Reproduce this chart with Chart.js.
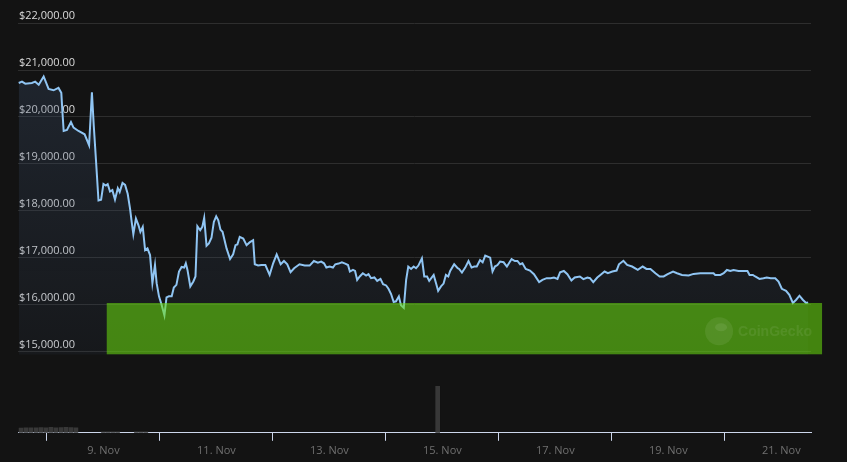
<!DOCTYPE html>
<html>
<head>
<meta charset="utf-8">
<title>BTC price</title>
<script src="https://cdn.jsdelivr.net/npm/chart.js@4.4.1/dist/chart.umd.min.js"></script>
<style>
  html, body { margin: 0; padding: 0; background: #131313; }
  canvas { display: block; }
</style>
</head>
<body>
<canvas id="priceChart" width="847" height="462"></canvas>
<script>
// hours counted from 7 Nov 00:00
const hours = [12.0,13.4,14.8,17.6,19.0,20.5,22.6,24.7,26.8,28.9,30.1,30.6,31.1,32.5,34.2,35.3,37.4,40.0,41.9,43.1,43.9,44.8,45.9,47.0,48.0,49.0,49.8,50.8,51.8,52.9,54.1,54.9,56.1,57.2,58.3,59.3,60.0,60.7,61.8,62.9,63.7,64.7,65.7,66.7,67.8,68.8,69.9,70.6,71.6,72.7,73.9,74.8,75.8,77.0,77.9,79.0,80.1,81.2,82.3,83.0,83.7,84.9,86.2,87.1,87.9,89.1,90.0,90.8,91.8,92.8,93.9,94.9,95.9,96.8,97.7,98.6,100.3,101.8,103.1,104.1,104.9,105.9,107.4,108.8,110.1,111.6,112.3,113.7,115.1,116.8,118.6,120.1,121.6,123.3,124.7,126.1,127.5,129.0,131.3,133.5,135.6,137.4,139.1,140.5,141.7,142.7,144.1,145.5,146.5,147.9,149.3,150.7,151.9,152.7,154.0,154.9,155.8,156.9,158.2,159.6,160.6,161.7,163.1,164.3,165.7,166.8,168.1,169.1,170.2,171.3,172.3,173.5,174.4,175.6,176.6,177.5,178.7,179.8,180.8,181.8,182.6,183.3,184.3,185.5,186.4,188.3,189.3,190.2,191.4,192.5,193.5,194.5,195.3,197.0,198.5,199.1,200.3,201.7,203.1,204.4,205.5,206.6,208.0,209.1,210.2,212.3,213.3,214.3,215.4,216.5,218.0,219.4,221.4,222.8,223.9,225.0,226.0,227.4,229.2,230.9,233.1,234.5,236.3,238.0,239.4,240.9,242.0,243.6,245.1,246.8,248.2,250.4,251.9,253.6,254.7,256.1,257.8,259.5,260.9,262.3,264.2,266.0,267.0,268.9,270.5,272.6,275.0,277.1,278.7,280.4,282.5,284.3,286.0,287.7,290.0,291.7,293.8,296.6,298.7,301.6,304.4,307.2,307.9,310.1,311.5,312.9,314.3,315.7,317.8,319.9,321.6,322.5,323.9,324.9,326.7,328.4,329.8,331.5,333.4,334.8,336.2,338.0,339.4,340.9,342.3,343.7,345.1,346.5,347.4];

const prices = [20725,20753,20711,20725,20753,20689,20865,20598,20569,20620,20514,20091,19702,19723,19892,19774,19702,19632,19399,20526,19807,19103,18221,18236,18574,18538,18568,18411,18441,18242,18483,18399,18596,18553,18363,18046,17764,17502,17834,17692,17553,17659,17164,17200,17058,16459,16846,16459,16178,16000,15772,16157,16178,16178,16368,16423,16707,16804,16791,16882,16741,16390,16495,16601,17671,17587,17659,17849,17257,17305,17426,17764,17883,17798,17601,17553,17200,16973,17073,17269,17284,17447,17411,17269,17327,17375,16861,16834,16846,16846,16635,16882,17073,16861,16931,16861,16692,16777,16861,16834,16834,16931,16897,16918,16882,16791,16813,16791,16861,16876,16904,16876,16846,16707,16741,16719,16529,16601,16671,16622,16650,16565,16580,16508,16550,16438,16410,16339,16227,16058,16072,16178,15988,15931,16529,16813,16762,16813,16777,16834,16918,16988,16601,16601,16508,16635,16459,16296,16390,16449,16635,16601,16719,16861,16777,16762,16686,16791,16931,16791,16813,16813,16952,16904,17045,17003,16707,16813,16846,16918,16904,16813,16973,16931,16931,16861,16882,16762,16728,16650,16481,16529,16565,16565,16580,16550,16692,16719,16650,16516,16580,16601,16544,16580,16565,16481,16580,16650,16707,16671,16707,16728,16861,16935,16846,16813,16741,16813,16762,16762,16671,16601,16601,16650,16707,16671,16635,16622,16656,16671,16671,16671,16635,16635,16671,16741,16719,16741,16719,16719,16719,16635,16635,16601,16550,16565,16580,16565,16565,16495,16339,16296,16212,16036,16106,16191,16106,16036,16047];

// volume (relative units)
const volHours  = [13.0,15.1,17.2,19.4,21.5,23.6,25.7,27.8,30.0,32.1,34.2,36.3,48,50,52,54,62,64,66,190];
const volValues = [1.1,1.15,1.2,1.15,1.25,1.2,1.3,1.2,1.25,1.3,1.25,1.2,0.25,0.25,0.25,0.2,0.25,0.25,0.2,11.0];

const xTickHours  = [48, 96, 144, 192, 240, 288, 336];
const xTickLabels = ["9. Nov", "11. Nov", "13. Nov", "15. Nov", "17. Nov", "19. Nov", "21. Nov"];
const yTickValues = [15000, 16000, 17000, 18000, 19000, 20000, 21000, 22000];

// green band over the lower part of the price pane
const bandStart = 49.4;
const bandEnd   = 353.3;
const bandHigh  = 16036;
const bandLow   = 14943;

const FONT = "'Open Sans', sans-serif";

// gradient under the line
function areaFill(context) {
  const { chart } = context;
  const { ctx, chartArea } = chart;
  if (!chartArea) return null;
  const g = ctx.createLinearGradient(0, chartArea.top, 0, chartArea.bottom);
  g.addColorStop(0, "rgba(60,80,110,0.34)");
  g.addColorStop(0.85, "rgba(60,80,110,0.09)");
  g.addColorStop(1, "rgba(60,80,110,0.0)");
  return g;
}

const bandPlugin = {
  id: "band",
  afterDatasetsDraw(chart) {
    const { ctx, scales: { x, y } } = chart;
    const left = x.getPixelForValue(bandStart);
    const right = x.getPixelForValue(bandEnd);
    const top = y.getPixelForValue(bandHigh);
    const bottom = y.getPixelForValue(bandLow);

    ctx.save();
    ctx.fillStyle = "rgba(106,222,12,0.56)";
    ctx.fillRect(left, top, right - left, bottom - top);

    // watermark
    const cy = bottom - 23;
    ctx.fillStyle = "rgba(255,255,255,0.08)";
    ctx.beginPath();
    ctx.arc(right - 103, cy, 14, 0, Math.PI * 2);
    ctx.fill();
    ctx.beginPath();
    ctx.ellipse(right - 101, cy - 4, 6, 4, 0, 0, Math.PI * 2);
    ctx.fill();
    ctx.font = "bold 14px 'Liberation Sans', sans-serif";
    ctx.textBaseline = "middle";
    ctx.textAlign = "left";
    ctx.fillText("CoinGecko", right - 84, cy + 1);
    ctx.restore();
  }
};

const ctx = document.getElementById("priceChart");

new Chart(ctx, {
  type: "line",
  data: {
    datasets: [
      {
        type: "line",
        data: hours.map((h, i) => ({ x: h, y: prices[i] })),
        borderColor: "#90c5f3",
        borderWidth: 2,
        pointRadius: 0,
        tension: 0,
        fill: { value: 14940 },
        backgroundColor: areaFill,
        yAxisID: "y",
        order: 1
      },
      {
        type: "bar",
        data: volHours.map((h, i) => ({ x: h, y: volValues[i] })),
        backgroundColor: "#383838",
        barThickness: 4,
        yAxisID: "yv",
        order: 2
      }
    ]
  },
  options: {
    responsive: false,
    animation: false,
    layout: { padding: { left: 16, right: 36, top: 10, bottom: 2 } },
    plugins: {
      legend: { display: false },
      tooltip: { enabled: false }
    },
    scales: {
      x: {
        type: "linear",
        min: 11.7,
        max: 348.6,
        offset: false,
        afterBuildTicks: (s) => { s.ticks = xTickHours.map((v) => ({ value: v })); },
        ticks: {
          color: "#707070",
          font: { family: FONT, size: 11 },
          maxRotation: 0,
          autoSkip: false,
          callback: (v) => xTickLabels[xTickHours.indexOf(v)] ?? ""
        },
        grid: { drawOnChartArea: false, drawTicks: true, tickLength: 8, color: "#ccd6eb" },
        border: { color: "#ccd6eb" }
      },
      y: {
        position: "left",
        min: 13270,
        max: 22280,
        afterBuildTicks: (s) => { s.ticks = yTickValues.map((v) => ({ value: v })); },
        ticks: {
          mirror: true,
          padding: 1,
          labelOffset: -7,
          color: "#dadada",
          font: { family: FONT, size: 11 },
          callback: (v) => "$" + v.toLocaleString("en-US", { minimumFractionDigits: 2, maximumFractionDigits: 2 })
        },
        grid: { color: "#2e2e2e", drawTicks: false },
        border: { display: false }
      },
      yv: {
        display: false,
        min: 0,
        max: 100
      }
    }
  },
  plugins: [bandPlugin]
});
</script>
</body>
</html>
